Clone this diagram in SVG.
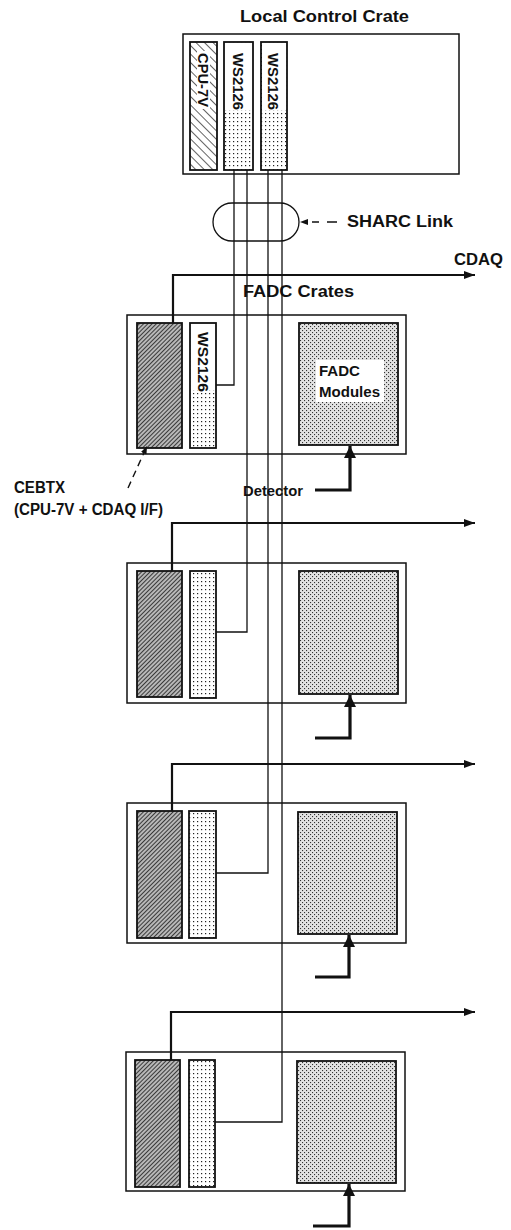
<svg xmlns="http://www.w3.org/2000/svg" width="511" height="1230" viewBox="0 0 511 1230">
<style>
.box{fill:none;stroke:#111;stroke-width:1.5}
.inner{stroke:#111;stroke-width:1.8}
.thin{fill:none;stroke:#111;stroke-width:1.3}
.cdaq{fill:none;stroke:#111;stroke-width:2.2}
.det{fill:none;stroke:#111;stroke-width:3.2}
.dash{fill:none;stroke:#111;stroke-width:1.4}
text{font-family:"Liberation Sans",Arial,Helvetica,sans-serif;font-weight:bold;fill:#111}
.lbl{font-size:16px}
.rot{font-size:15px}
.sm{font-size:14px}
</style>
<defs>
<pattern id="hatchSparse" width="6" height="6" patternUnits="userSpaceOnUse" patternTransform="rotate(-45)">
<rect width="6" height="6" fill="#fff"/>
<line x1="0" y1="0" x2="0" y2="6" stroke="#111" stroke-width="1.3"/>
</pattern>
<pattern id="hatchDense" width="3" height="3" patternUnits="userSpaceOnUse" patternTransform="rotate(45)">
<rect width="3" height="3" fill="#b8b8b8"/>
<line x1="0" y1="0" x2="0" y2="3" stroke="#1a1a1a" stroke-width="1.6"/>
</pattern>
<pattern id="dotsSparse" width="4" height="4" patternUnits="userSpaceOnUse">
<rect width="4" height="4" fill="#fff"/>
<rect x="1" y="1" width="1.2" height="1.2" fill="#222"/>
</pattern>
<pattern id="dotsDense" width="4" height="4" patternUnits="userSpaceOnUse">
<rect width="4" height="4" fill="#e2e2e2"/>
<rect x="0" y="0" width="1.1" height="1.1" fill="#333"/>
<rect x="2" y="2" width="1.1" height="1.1" fill="#333"/>
</pattern>
<marker id="arrCdaq" markerUnits="userSpaceOnUse" markerWidth="11" markerHeight="8" refX="11" refY="4" orient="auto">
<path d="M0,0 L11,4 L0,8 z" fill="#111"/>
</marker>
<marker id="arrDet" markerUnits="userSpaceOnUse" markerWidth="12" markerHeight="12" refX="12" refY="6" orient="auto">
<path d="M0,0 L12,6 L0,12 z" fill="#111"/>
</marker>
<marker id="arrSmall" markerUnits="userSpaceOnUse" markerWidth="8" markerHeight="6" refX="8" refY="3" orient="auto">
<path d="M0,0 L8,3 L0,6 z" fill="#111"/>
</marker>
</defs>
<rect width="511" height="1230" fill="#fff"/>

<!-- Local Control Crate -->
<g id="local-crate">
<text class="lbl" x="240" y="22" textLength="169" lengthAdjust="spacingAndGlyphs">Local Control Crate</text>
<rect class="box" x="183" y="34" width="276" height="140"/>
<g id="local-cpu">
<rect class="inner" x="190" y="42" width="27" height="128" fill="url(#hatchSparse)"/>
<rect x="197" y="51" width="13" height="58" fill="#fff"/>
<text class="rot" transform="translate(203,53) rotate(90)" x="0" y="5.4" textLength="54" lengthAdjust="spacingAndGlyphs">CPU-7V</text>
</g>
<g id="local-ws1">
<rect class="inner" x="224" y="42" width="29" height="128" fill="url(#dotsSparse)"/>
<rect x="225" y="43" width="27" height="67" fill="#fff"/>
<text class="rot" transform="translate(238,53) rotate(90)" x="0" y="5.4" textLength="57" lengthAdjust="spacingAndGlyphs">WS2126</text>
</g>
<g id="local-ws2">
<rect class="inner" x="261" y="42" width="26" height="128" fill="url(#dotsSparse)"/>
<rect x="262" y="43" width="24" height="67" fill="#fff"/>
<text class="rot" transform="translate(273,53) rotate(90)" x="0" y="5.4" textLength="57" lengthAdjust="spacingAndGlyphs">WS2126</text>
</g>
</g>

<!-- SHARC link -->
<g id="sharc-link">
<rect class="thin" x="213" y="203" width="86" height="38" rx="19" ry="19" stroke-width="1.5"/>
<text class="lbl" x="347" y="227" textLength="106" lengthAdjust="spacingAndGlyphs">SHARC Link</text>
</g>

<!-- Labels -->
<g id="labels">
<text class="lbl" x="454" y="265" textLength="49" lengthAdjust="spacingAndGlyphs">CDAQ</text>
<text class="lbl" x="243" y="297" textLength="111" lengthAdjust="spacingAndGlyphs">FADC Crates</text>
<text class="lbl" x="14" y="493" textLength="51" lengthAdjust="spacingAndGlyphs">CEBTX</text>
<text class="lbl" x="14" y="515" textLength="149" lengthAdjust="spacingAndGlyphs">(CPU-7V + CDAQ I/F)</text>
<text class="sm" x="243" y="496" textLength="60" lengthAdjust="spacingAndGlyphs">Detector</text>
</g>

<!-- FADC crate 1 -->
<g id="crate1">
<rect class="box" x="127" y="315" width="279" height="139"/>
<rect class="inner" x="137" y="323" width="45" height="125" fill="url(#hatchDense)"/>
<rect class="inner" x="190" y="323" width="26" height="125" fill="url(#dotsSparse)"/>
<rect x="191" y="324" width="24" height="66" fill="#fff"/>
<text class="rot" transform="translate(203,332) rotate(90)" x="0" y="5.4" textLength="60" lengthAdjust="spacingAndGlyphs">WS2126</text>
<rect class="inner" x="299" y="323" width="99" height="122" fill="url(#dotsDense)"/>
<rect x="316" y="360" width="68" height="42" fill="#fff"/>
<text class="sm" x="319" y="376" textLength="41" lengthAdjust="spacingAndGlyphs">FADC</text>
<text class="sm" x="319" y="397" textLength="61" lengthAdjust="spacingAndGlyphs">Modules</text>
</g>

<!-- FADC crate 2 -->
<g id="crate2">
<rect class="box" x="127" y="563" width="279" height="140"/>
<rect class="inner" x="137" y="571" width="45" height="126" fill="url(#hatchDense)"/>
<rect class="inner" x="190" y="571" width="26" height="127" fill="url(#dotsSparse)"/>
<rect class="inner" x="299" y="571" width="99" height="123" fill="url(#dotsDense)"/>
</g>

<!-- FADC crate 3 -->
<g id="crate3">
<rect class="box" x="127" y="803" width="279" height="140"/>
<rect class="inner" x="137" y="811" width="45" height="127" fill="url(#hatchDense)"/>
<rect class="inner" x="189" y="811" width="27" height="127" fill="url(#dotsSparse)"/>
<rect class="inner" x="298" y="812" width="99" height="122" fill="url(#dotsDense)"/>
</g>

<!-- FADC crate 4 -->
<g id="crate4">
<rect class="box" x="126" y="1052" width="279" height="139"/>
<rect class="inner" x="135" y="1060" width="45" height="127" fill="url(#hatchDense)"/>
<rect class="inner" x="189" y="1060" width="26" height="127" fill="url(#dotsSparse)"/>
<rect class="inner" x="297" y="1061" width="99" height="122" fill="url(#dotsDense)"/>
</g>

<!-- Connectors -->
<g id="connectors">
<path class="thin" d="M234,170 V385 H216"/>
<path class="thin" d="M247,170 V632 H216"/>
<path class="thin" d="M268,170 V873 H216"/>
<path class="thin" d="M282,170 V1122 H215"/>
<path class="dash" d="M337,222 L300,222" stroke-dasharray="10,8,7,30" marker-end="url(#arrSmall)"/>
<path class="dash" d="M128,488 L147,446" stroke-dasharray="7,5" marker-end="url(#arrSmall)"/>
<path class="cdaq" d="M173,323 V275 H475" marker-end="url(#arrCdaq)"/>
<path class="cdaq" d="M172,571 V523 H475" marker-end="url(#arrCdaq)"/>
<path class="cdaq" d="M172,811 V764 H475" marker-end="url(#arrCdaq)"/>
<path class="cdaq" d="M171,1060 V1012 H475" marker-end="url(#arrCdaq)"/>
<path class="det" d="M315,490 H350 V446" marker-end="url(#arrDet)"/>
<path class="det" d="M315,738 H350 V695" marker-end="url(#arrDet)"/>
<path class="det" d="M315,977 H349 V935" marker-end="url(#arrDet)"/>
<path class="det" d="M313,1226 H349 V1184" marker-end="url(#arrDet)"/>
</g>
</svg>
